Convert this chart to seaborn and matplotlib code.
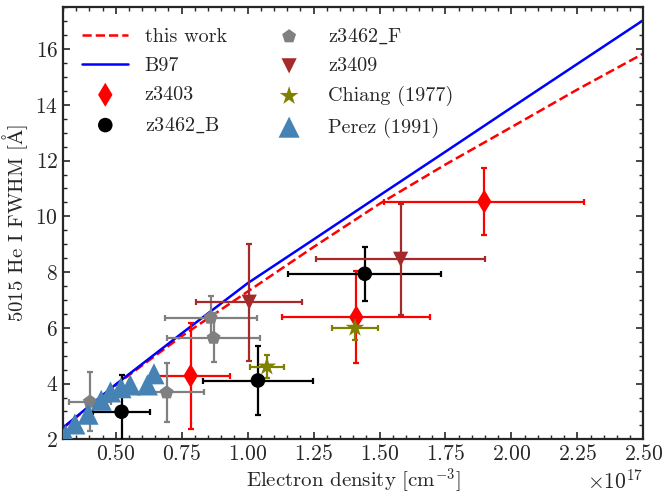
import numpy as np
import pandas as pd
import matplotlib
matplotlib.use("Agg")
import matplotlib.pyplot as plt
import seaborn as sns

# ---------------- data (electron density in units of 1e17 cm^-3) ----------------
line_x = [0.30, 0.50, 0.75, 1.00, 1.25, 1.50, 1.75, 2.00, 2.25, 2.50]
this_work_y = [2.40, 3.95, 5.70, 7.30, 8.90, 10.45, 11.86, 13.20, 14.55, 15.84]
b97_y = [2.42, 3.97, 5.80, 7.60, 9.17, 10.75, 12.32, 13.90, 15.47, 17.04]

z3403_x = [0.784, 1.412, 1.897]
z3403_y = [4.28, 6.38, 10.53]
z3403_xerr = [0.15, 0.28, 0.38]
z3403_yerr = [1.90, 1.65, 1.20]

z3462B_x = [0.522, 1.039, 1.444]
z3462B_y = [2.99, 4.11, 7.94]
z3462B_xerr = [0.108, 0.21, 0.29]
z3462B_yerr = [1.33, 1.25, 0.96]

z3462F_x = [0.402, 0.693, 0.860, 0.871]
z3462F_y = [3.35, 3.68, 6.36, 5.64]
z3462F_xerr = [0.08, 0.14, 0.174, 0.175]
z3462F_yerr = [1.05, 1.05, 0.80, 0.88]

z3409_x = [1.006, 1.580]
z3409_y = [6.92, 8.46]
z3409_xerr = [0.20, 0.32]
z3409_yerr = [2.10, 2.00]

chiang_x = [1.073, 1.407]
chiang_y = [4.61, 6.00]
chiang_xerr = [0.065, 0.086]
chiang_yerr = [0.40, 0.42]

perez_x = [0.31, 0.345, 0.395, 0.445, 0.48, 0.52, 0.555, 0.62, 0.645]
perez_y = [2.15, 2.55, 2.90, 3.40, 3.70, 3.85, 3.95, 3.95, 4.35]

labels = ["this work", "B97", "z3403", r"z3462$\_$B", r"z3462$\_$F", "z3409",
          "Chiang (1977)", "Perez (1991)"]

SCALE = 1e17

# ---------------- style ----------------
sns.set_theme(style="ticks")
plt.rcParams.update({
    "font.family": ["cmr10", "DejaVu Serif"],
    "mathtext.fontset": "cm",
    "axes.formatter.use_mathtext": True,
    "font.size": 15,
    "axes.linewidth": 1.6,
    "xtick.direction": "in",
    "ytick.direction": "in",
    "xtick.top": True,
    "ytick.right": True,
    "xtick.minor.visible": True,
    "ytick.minor.visible": True,
    "xtick.major.size": 5,
    "ytick.major.size": 5,
    "xtick.minor.size": 3,
    "ytick.minor.size": 3,
    "xtick.major.width": 1.2,
    "ytick.major.width": 1.2,
    "xtick.minor.width": 1.0,
    "ytick.minor.width": 1.0,
    "xtick.labelsize": 15.5,
    "ytick.labelsize": 15.5,
    "axes.labelsize": 15,
    "legend.fontsize": 14.5,
})

fig = plt.figure(figsize=(6.63, 4.95), dpi=100)
ax = fig.add_axes([0.095, 0.1125, 0.8753, 0.8727])

lx = np.array(line_x) * SCALE
sns.lineplot(x=lx, y=this_work_y, ax=ax, color="red", linestyle="--", lw=1.8,
             label=labels[0], sort=False)
sns.lineplot(x=lx, y=b97_y, ax=ax, color="blue", lw=1.8, label=labels[1], sort=False)

def eb(x, y, xe, ye, color):
    ax.errorbar(np.array(x) * SCALE, y, xerr=np.array(xe) * SCALE, yerr=ye,
                fmt="none", ecolor=color, elinewidth=1.6, capsize=2.5, capthick=1.6,
                zorder=3)

eb(z3403_x, z3403_y, z3403_xerr, z3403_yerr, "red")
sns.scatterplot(x=np.array(z3403_x) * SCALE, y=z3403_y, ax=ax, marker="d", s=150,
                color="red", edgecolor="none", label=labels[2], zorder=4)
eb(z3462B_x, z3462B_y, z3462B_xerr, z3462B_yerr, "black")
sns.scatterplot(x=np.array(z3462B_x) * SCALE, y=z3462B_y, ax=ax, marker="o", s=110,
                color="black", edgecolor="none", label=labels[3], zorder=4)
eb(z3462F_x, z3462F_y, z3462F_xerr, z3462F_yerr, "gray")
sns.scatterplot(x=np.array(z3462F_x) * SCALE, y=z3462F_y, ax=ax, marker="p", s=110,
                color="gray", edgecolor="none", label=labels[4], zorder=4)
eb(z3409_x, z3409_y, z3409_xerr, z3409_yerr, "brown")
sns.scatterplot(x=np.array(z3409_x) * SCALE, y=z3409_y, ax=ax, marker="v", s=120,
                color="brown", edgecolor="none", label=labels[5], zorder=4)
eb(chiang_x, chiang_y, chiang_xerr, chiang_yerr, "olive")
sns.scatterplot(x=np.array(chiang_x) * SCALE, y=chiang_y, ax=ax, marker="*", s=200,
                color="olive", edgecolor="none", label=labels[6], zorder=4)
sns.scatterplot(x=np.array(perez_x) * SCALE, y=perez_y, ax=ax, marker="^", s=230,
                color="steelblue", edgecolor="none", label=labels[7], zorder=5)

ax.set_xlim(0.3 * SCALE, 2.5 * SCALE)
ax.set_ylim(2, 17.5)
ax.set_xticks(np.arange(0.5, 2.51, 0.25) * SCALE)
ax.set_yticks(np.arange(2, 17, 2))
ax.set_xlabel(r"Electron density [cm$^{-3}$]", labelpad=1)
ax.set_ylabel(r"5015 He I FWHM [$\mathrm{\AA}$]")

ax.legend(ncol=2, loc="upper left", frameon=False, handlelength=2.3,
          columnspacing=1.95, labelspacing=0.55, borderaxespad=0.55)

fig.savefig("out.png", dpi=100)
